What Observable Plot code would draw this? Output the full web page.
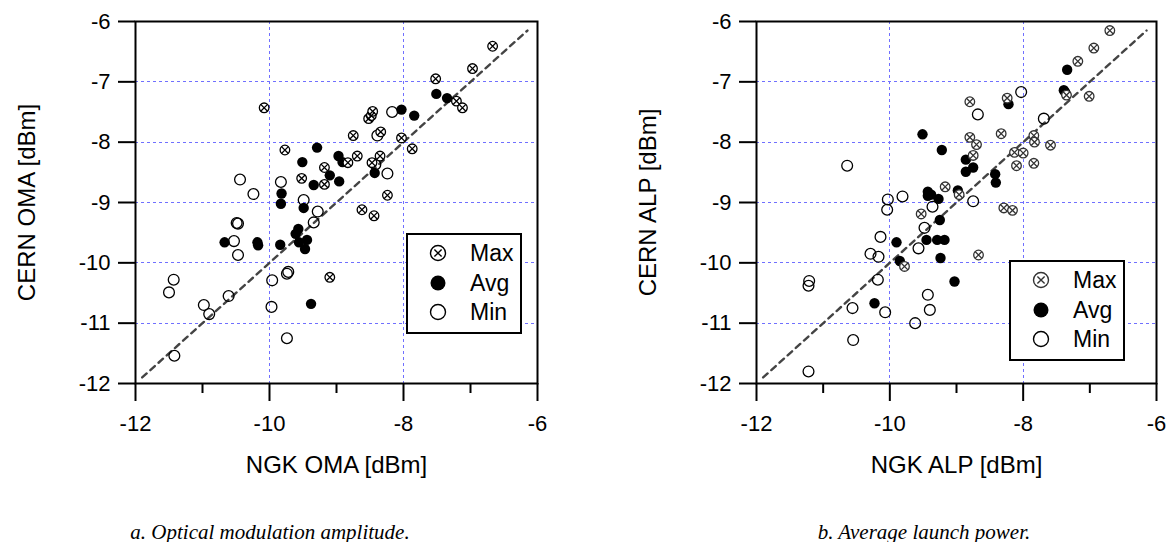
<!DOCTYPE html>
<html><head><meta charset="utf-8">
<script src="https://cdn.jsdelivr.net/npm/d3@7"></script>
<script src="https://cdn.jsdelivr.net/npm/@observablehq/plot@0.6"></script>
<style>
html,body{margin:0;padding:0;background:#fff;}
body{width:1169px;height:542px;position:relative;overflow:hidden;font-family:"Liberation Sans",Arial,sans-serif;}
.panel{position:absolute;top:0;}
.legend{position:absolute;border:2px solid #000;background:#fff;box-sizing:border-box;width:116px;height:101px;}
.legend svg{display:block;}
.caption{position:absolute;top:522px;font-family:"Liberation Serif","Times New Roman",serif;font-style:italic;font-size:21px;line-height:21px;white-space:nowrap;transform:translateX(-50%);}
</style>
</head><body>
<div id="left" class="panel" style="left:0px"></div>
<div id="right" class="panel" style="left:621px"></div>
<div id="legL" class="legend" style="left:406px;top:233px"></div>
<div id="legR" class="legend" style="left:1009px;top:260px"></div>
<div id="capL" class="caption" style="left:270px"></div>
<div id="capR" class="caption" style="left:924px"></div>
<script>
// ---- data ----
const majorTicks = [-12, -10, -8, -6];
const minorTicks = [-11, -9, -7];
const yTicks = [-12, -11, -10, -9, -8, -7, -6];
const gridXVals = [-10, -8];
const gridYVals = [-11, -10, -9, -8, -7];
const diagonal = [-11.9, -6.15];
const seriesNames = ["Max", "Avg", "Min"];
const captions = ["a. Optical modulation amplitude.", "b. Average launch power."];

const omaMax = [[-10.08,-7.43],[-9.77,-8.13],[-9.52,-8.60],[-9.18,-8.42],[-9.18,-8.70],[-8.75,-7.89],[-8.69,-8.23],[-8.83,-8.34],[-8.52,-7.61],[-8.48,-7.56],[-8.46,-7.49],[-8.34,-7.83],[-8.35,-8.23],[-8.47,-8.34],[-8.24,-8.88],[-8.62,-9.12],[-8.44,-9.22],[-9.10,-10.24],[-8.03,-7.93],[-7.87,-8.11],[-7.52,-6.95],[-6.97,-6.78],[-6.67,-6.41],[-7.21,-7.32],[-7.12,-7.43]];
const omaAvg = [[-9.29,-8.09],[-9.51,-8.33],[-8.97,-8.23],[-8.91,-8.33],[-9.10,-8.55],[-9.34,-8.71],[-8.96,-8.65],[-9.82,-8.85],[-9.83,-9.02],[-9.49,-9.09],[-9.57,-9.44],[-9.61,-9.52],[-9.56,-9.66],[-9.47,-9.77],[-9.44,-9.62],[-10.18,-9.66],[-10.17,-9.71],[-10.67,-9.66],[-9.84,-9.70],[-9.38,-10.68],[-8.43,-8.51],[-8.03,-7.46],[-7.84,-7.56],[-7.51,-7.20],[-7.35,-7.27]];
const omaMin = [[-10.44,-8.62],[-10.24,-8.86],[-9.83,-8.66],[-9.49,-8.96],[-9.28,-9.15],[-9.34,-9.33],[-10.49,-9.34],[-10.47,-9.35],[-10.53,-9.64],[-10.47,-9.87],[-9.72,-10.15],[-9.74,-10.18],[-9.96,-10.29],[-11.43,-10.28],[-11.50,-10.49],[-10.61,-10.55],[-10.98,-10.70],[-10.90,-10.85],[-11.42,-11.54],[-9.97,-10.73],[-9.74,-11.25],[-8.39,-7.89],[-8.17,-7.50],[-8.24,-8.52],[-8.42,-8.37]];

const alpMax = [[-6.70,-6.15],[-6.94,-6.44],[-7.18,-6.66],[-7.01,-7.24],[-7.35,-7.22],[-8.80,-7.33],[-8.24,-7.27],[-8.80,-7.92],[-8.70,-8.04],[-8.75,-8.22],[-8.33,-7.86],[-8.13,-8.17],[-8.00,-8.18],[-8.10,-8.39],[-7.84,-7.89],[-7.83,-8.00],[-7.59,-8.05],[-7.84,-8.35],[-9.17,-8.74],[-9.53,-9.19],[-8.29,-9.09],[-8.16,-9.13],[-8.67,-9.87],[-9.78,-10.06],[-8.96,-8.87]];
const alpAvg = [[-7.34,-6.80],[-7.39,-7.14],[-7.37,-7.17],[-8.22,-7.37],[-9.51,-7.87],[-9.22,-8.13],[-8.86,-8.29],[-8.86,-8.49],[-8.75,-8.42],[-8.42,-8.53],[-8.41,-8.67],[-8.98,-8.80],[-9.43,-8.82],[-9.43,-8.89],[-9.38,-8.87],[-9.27,-8.94],[-9.25,-9.29],[-9.45,-9.62],[-9.29,-9.62],[-9.18,-9.62],[-9.24,-9.92],[-9.90,-9.66],[-9.85,-9.97],[-10.23,-10.67],[-9.03,-10.31]];
const alpMin = [[-8.03,-7.17],[-8.68,-7.54],[-7.69,-7.61],[-10.64,-8.39],[-10.03,-8.95],[-10.04,-9.12],[-9.81,-8.90],[-9.36,-9.07],[-8.75,-8.98],[-9.48,-9.42],[-10.14,-9.57],[-9.57,-9.76],[-10.29,-9.85],[-10.17,-9.90],[-10.18,-10.28],[-11.21,-10.30],[-11.22,-10.38],[-9.43,-10.53],[-9.40,-10.78],[-10.56,-10.75],[-10.07,-10.82],[-9.62,-11.00],[-10.55,-11.28],[-11.22,-11.80]];

// ---- drawing ----
const FONT = "'Liberation Sans', Arial, sans-serif";
const fmt = d => String(d);
const px = d => d[0], py = d => d[1];

function panel(maxPts, avgPts, minPts, xLabel, yLabel, width, marginRight, maxColor) {
  const grid = {stroke: "#7070ff", strokeOpacity: 1, strokeWidth: 1, strokeDasharray: "3,3", shapeRendering: "crispEdges"};
  return Plot.plot({
    width, height: 480,
    marginLeft: 135, marginRight, marginTop: 21, marginBottom: 97,
    x: {domain: [-12, -6]},
    y: {domain: [-12, -6]},
    style: {fontFamily: FONT, background: "transparent", overflow: "visible", color: "#000"},
    marks: [
      Plot.gridX(gridXVals, grid),
      Plot.gridY(gridYVals, grid),
      Plot.line(diagonal.map(v => [v, v]), {x: px, y: py, stroke: "#444", strokeWidth: 2.4, strokeDasharray: "6,5"}),
      Plot.dot(minPts, {x: px, y: py, r: 5.4, stroke: "#000", strokeWidth: 1.3, fill: "none"}),
      Plot.dot(avgPts, {x: px, y: py, r: 5.2, fill: "#000", stroke: "none"}),
      Plot.dot(maxPts, {x: px, y: py, r: 4.8, stroke: maxColor, strokeWidth: 1.3, fill: "#fff"}),
      Plot.dot(maxPts, {x: px, y: py, r: 3.2, symbol: "times", stroke: maxColor, strokeWidth: 1.3}),
      Plot.frame({stroke: "#000", strokeWidth: 2}),
      Plot.axisY(yTicks, {tickSize: 17, tickPadding: 8, fontSize: 22, strokeWidth: 2, tickFormat: fmt, label: null}),
      Plot.axisX(majorTicks, {tickSize: 18, tickPadding: 14, fontSize: 22, strokeWidth: 2, tickFormat: fmt, label: null}),
      Plot.axisX(minorTicks, {tickSize: 10, strokeWidth: 2, tickFormat: () => "", label: null}),
      Plot.text([xLabel], {frameAnchor: "bottom", text: d => d, dy: 82, fontSize: 24, textAnchor: "middle", lineAnchor: "middle"}),
      Plot.text([yLabel], {frameAnchor: "left", text: d => d, dx: -108, rotate: -90, fontSize: 24, textAnchor: "middle", lineAnchor: "middle"})
    ]
  });
}

document.getElementById("left").append(panel(omaMax, omaAvg, omaMin, "NGK OMA [dBm]", "CERN OMA [dBm]", 621, 84, "#000"));
document.getElementById("right").append(panel(alpMax, alpAvg, alpMin, "NGK ALP [dBm]", "CERN ALP [dBm]", 548, 13, "#333"));

function legend(id, maxColor) {
  const svg = d3.create("svg").attr("width", 112).attr("height", 97);
  const rows = [18, 48, 77];
  seriesNames.forEach((name, i) => {
    const g = svg.append("g").attr("transform", `translate(30,${rows[i]})`);
    if (name === "Max") {
      g.append("circle").attr("r", 7.5).attr("fill", "#fff").attr("stroke", maxColor).attr("stroke-width", 1.4);
      g.append("path").attr("d", "M-3.6,-3.6L3.6,3.6M-3.6,3.6L3.6,-3.6").attr("stroke", maxColor).attr("stroke-width", 1.4);
    } else if (name === "Avg") {
      g.append("circle").attr("r", 7.5).attr("fill", "#000");
    } else {
      g.append("circle").attr("r", 7.5).attr("fill", "none").attr("stroke", "#000").attr("stroke-width", 1.4);
    }
    svg.append("text").attr("x", 62).attr("y", rows[i]).attr("dy", "0.36em")
      .attr("font-family", FONT).attr("font-size", 23).text(name);
  });
  document.getElementById(id).append(svg.node());
}
legend("legL", "#000");
legend("legR", "#333");

document.getElementById("capL").textContent = captions[0];
document.getElementById("capR").textContent = captions[1];
</script>
</body></html>
